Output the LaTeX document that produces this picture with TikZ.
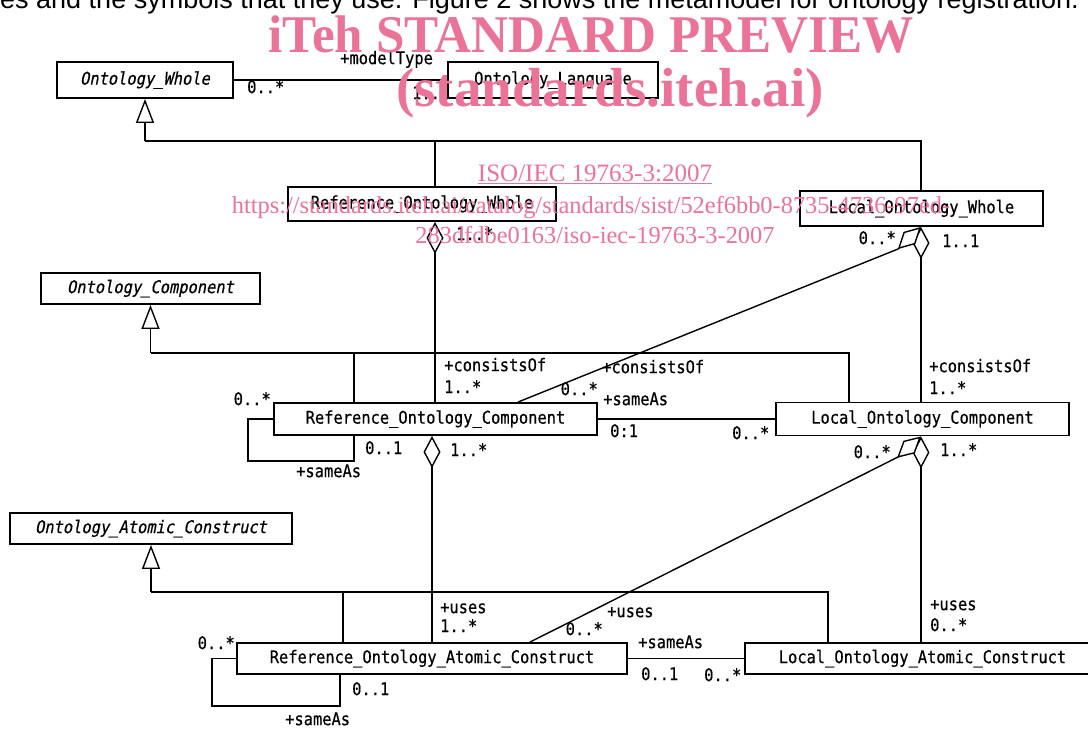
\documentclass[tikz,border=0pt]{standalone}
\usepackage{fontspec}
\usetikzlibrary{arrows.meta}
\newfontfamily\gothic[FakeStretch=0.88,FakeBold=0.5]{DejaVu Sans Mono}
\newfontfamily\gothicsl[FakeStretch=0.88,FakeSlant=0.2,FakeBold=0.5]{DejaVu Sans Mono}
\newfontfamily\wmserif{Liberation Serif}
\newfontfamily\wmserifc[FakeStretch=0.965]{Liberation Serif}
\newfontfamily\topsans{Liberation Sans}
\definecolor{wmpink}{RGB}{236,115,152}
\begin{document}
\begin{tikzpicture}[x=1pt,y=-1pt,
  cls/.style={draw, line width=1.9pt, fill=white, inner sep=0pt, font=\gothic\fontsize{17.5}{19}\selectfont},
  abscls/.style={cls, font=\gothicsl\fontsize{17.5}{19}\selectfont},
  lbl/.style={inner sep=0pt, font=\gothic\fontsize{17.5}{19}\selectfont},
  conn/.style={line width=1.4pt},
  gen/.style={conn, -{Triangle[open, length=24pt, width=18pt]}},
  agg/.style={conn, -{Diamond[fill=white, length=32pt, width=17pt]}},
  wm/.style={inner sep=0pt, text=wmpink, anchor=base},
]
\fill[white] (0,0) rectangle (1088,729);
\useasboundingbox (0,0) rectangle (1088,729);

% top text line (cut off)
\node[inner sep=0pt, anchor=base west, font=\topsans\fontsize{27}{27}\selectfont] (toptext) at (0,8) {es and the symbols that they use. Figure 2 shows the metamodel for ontology registration.};

% classes
\node[abscls, minimum width=176pt, minimum height=36pt] (ow) at (145,80) {Ontology\_Whole};
\node[cls, minimum width=210pt, minimum height=36pt] (ol) at (553,80) {Ontology\_Language};
\node[cls, minimum width=268pt, minimum height=34pt] (row) at (422,204) {Reference\_Ontology\_Whole};
\node[cls, minimum width=243pt, minimum height=35pt] (low) at (921.5,208.5) {Local\_Ontology\_Whole};
\node[abscls, minimum width=219pt, minimum height=31pt] (oc) at (150.5,288.5) {Ontology\_Component};
\node[cls, minimum width=323pt, minimum height=32pt] (roc) at (435.5,419) {Reference\_Ontology\_Component};
\node[cls, minimum width=293pt, minimum height=33pt] (loc) at (922.5,419) {Local\_Ontology\_Component};
\node[abscls, minimum width=282pt, minimum height=31pt] (oac) at (151,528.5) {Ontology\_Atomic\_Construct};
\node[cls, minimum width=390pt, minimum height=31pt] (roac) at (432,658.5) {Reference\_Ontology\_Atomic\_Construct};
\node[cls, minimum width=355pt, minimum height=31pt] (loac) at (922.5,658.5) {Local\_Ontology\_Atomic\_Construct};

% helper coordinates
\coordinate (rwx) at (435,0);
\coordinate (lwx) at (921,0);
\coordinate (rcx) at (354,0);
\coordinate (lcx) at (849,0);
\coordinate (rax) at (343,0);
\coordinate (lax) at (828,0);
\coordinate (ax2) at (432,0);
\coordinate (rlx) at (340,0);
\coordinate (j1) at (145,141);
\coordinate (j2) at (150.5,353);
\coordinate (j3) at (151,592);
\coordinate (d1s) at (518,0);
\coordinate (d1e) at (898,249);
\coordinate (d2s) at (530,0);
\coordinate (d2e) at (898,457);
\coordinate (s1a) at (248,461);
\coordinate (s2a) at (212,706);

% generalizations
\draw[gen] (j1) -- (ow.south);
\draw[conn] (j1) -- (j1 -| lwx) -- (lwx |- low.north);
\draw[conn] (rwx |- row.north) -- (rwx |- j1);

\draw[gen] (j2) -- (oc.south);
\draw[conn] (j2) -- (j2 -| lcx) -- (lcx |- loc.north);
\draw[conn] (rcx |- roc.north) -- (rcx |- j2);

\draw[gen] (j3) -- (oac.south);
\draw[conn] (j3) -- (j3 -| lax) -- (lax |- loac.north);
\draw[conn] (rax |- roac.north) -- (rax |- j3);

% associations
\draw[conn] (ow) -- (ol);
\draw[conn] (roc) -- (loc);
\draw[conn] (roac) -- (loac);

% aggregations
\draw[agg] (rwx |- roc.north) -- (rwx |- row.south);
\draw[agg] (lwx |- loc.north) -- (lwx |- low.south);
\draw[agg] (ax2 |- roac.north) -- (ax2 |- roc.south);
\draw[agg] (lwx |- loac.north) -- (lwx |- loc.south);
\draw[conn] (d1s |- roc.north) -- (d1e);
\draw[agg] (d1e) -- (lwx |- low.south);
\draw[conn] (d2s |- roac.north) -- (d2e);
\draw[agg] (d2e) -- (lwx |- loc.south);

% self loops
\draw[conn] (roc.west) -| (s1a) -| (rcx |- roc.south);
\draw[conn] (roac.west) -| (s2a) -| (rlx |- roac.south);

% labels
\node[lbl, anchor=mid west] (l1) at (340,62) {+modelType};
\node[lbl, anchor=mid west] (l2) at (247,91) {0..*};
\node[lbl, anchor=mid west] (l3) at (412,97) {1..1};
\node[lbl, anchor=mid west] (l4) at (456,238) {1..*};
\node[lbl, anchor=mid east] (l5) at (896,242) {0..*};
\node[lbl, anchor=mid west] (l6) at (942,245) {1..1};
\node[lbl, anchor=mid west] (l7) at (444,369) {+consistsOf};
\node[lbl, anchor=mid west] (l8) at (444,391) {1..*};
\node[lbl, anchor=mid east] (l9) at (271,403) {0..*};
\node[lbl, anchor=mid west] (l10) at (365,452) {0..1};
\node[lbl, anchor=mid west] (l11) at (296,475) {+sameAs};
\node[lbl, anchor=mid west] (l12) at (450,454) {1..*};
\node[lbl, anchor=mid west] (l13) at (602,371) {+consistsOf};
\node[lbl, anchor=mid east] (l14) at (598,393) {0..*};
\node[lbl, anchor=mid west] (l15) at (603,403) {+sameAs};
\node[lbl, anchor=mid west] (l16) at (610,435) {0:1};
\node[lbl, anchor=mid west] (l17) at (732,437) {0..*};
\node[lbl, anchor=mid west] (l18) at (929,370) {+consistsOf};
\node[lbl, anchor=mid west] (l19) at (929,392) {1..*};
\node[lbl, anchor=mid east] (l20) at (891,456) {0..*};
\node[lbl, anchor=mid west] (l21) at (940,454) {1..*};
\node[lbl, anchor=mid west] (l22) at (440,611) {+uses};
\node[lbl, anchor=mid west] (l23) at (440,630) {1..*};
\node[lbl, anchor=mid east] (l24) at (235,647) {0..*};
\node[lbl, anchor=mid west] (l25) at (352,693) {0..1};
\node[lbl, anchor=mid west] (l26) at (285,723) {+sameAs};
\node[lbl, anchor=mid west] (l27) at (607,615) {+uses};
\node[lbl, anchor=mid east] (l28) at (603,633) {0..*};
\node[lbl, anchor=mid west] (l29) at (638,646) {+sameAs};
\node[lbl, anchor=mid west] (l30) at (641,678) {0..1};
\node[lbl, anchor=mid west] (l31) at (704,679) {0..*};
\node[lbl, anchor=mid west] (l32) at (930,608) {+uses};
\node[lbl, anchor=mid west] (l33) at (930,629) {0..*};

% watermark
\node[wm, font=\wmserifc\bfseries\fontsize{53}{53}\selectfont] (wm1) at (591,52) {iTeh STANDARD PREVIEW};
\node[wm, font=\wmserif\bfseries\fontsize{55}{55}\selectfont] (wm2) at (610,106) {(standards.iteh.ai)};
\node[wm, font=\wmserif\fontsize{25}{25}\selectfont] (wm3) at (595,181) {\underline{ISO/IEC 19763-3:2007}};
\node[wm, font=\wmserif\fontsize{24.4}{25}\selectfont] (wm4) at (591,213) {https://standards.iteh.ai/catalog/standards/sist/52ef6bb0-8735-4736-97ed-};
\node[wm, font=\wmserif\fontsize{24.4}{25}\selectfont] (wm5) at (595,243) {283dfdbe0163/iso-iec-19763-3-2007};
\end{tikzpicture}
\end{document}
